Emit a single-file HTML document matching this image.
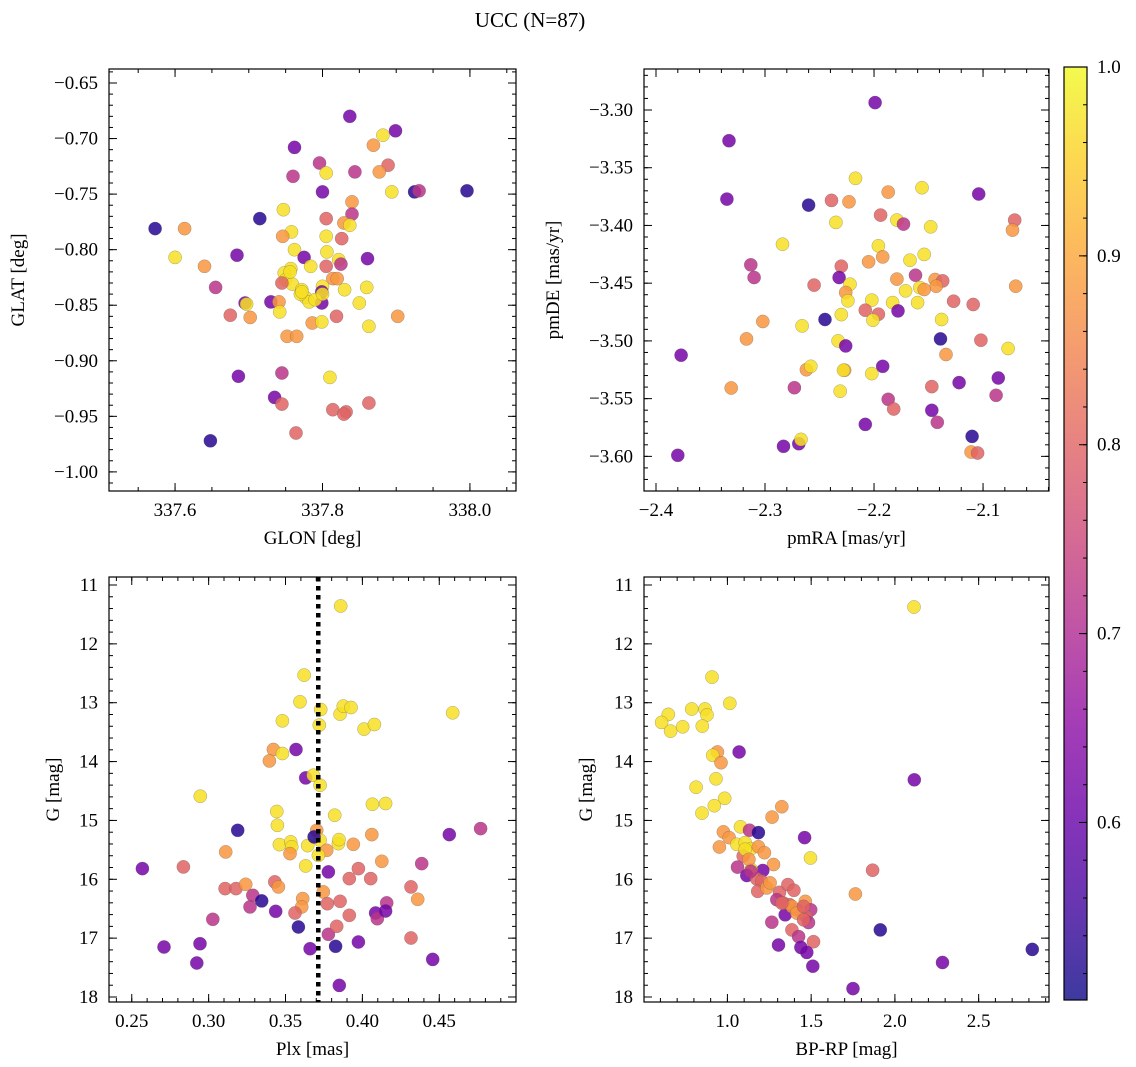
<!DOCTYPE html>
<html><head><meta charset="utf-8"><style>
html,body{margin:0;padding:0;background:#fff}
svg{display:block}
svg text{font-family:"Liberation Serif",serif;fill:#000}
</style></head><body>
<svg id="fig" width="1136" height="1067" viewBox="0 0 1136 1067" xmlns="http://www.w3.org/2000/svg" font-family="Liberation Serif, serif">
<text x="530" y="27" font-size="21" text-anchor="middle">UCC (N=87)</text>
</svg>
<script>
// ---- Panel 1: GLON vs GLAT
const glon = [337.837,337.899,337.882,337.869,337.762,337.796,337.889,337.805,337.844,337.877,337.760,337.800,337.894,337.925,337.931,337.996,337.840,337.747,337.840,337.805,337.715,337.829,337.837,337.573,337.613,337.758,337.746,337.805,337.826,337.762,337.806,337.684,337.775,337.600,337.861,337.822,337.825,337.784,337.805,337.640,337.757,337.748,337.814,337.750,337.759,337.800,337.655,337.860,337.830,337.772,337.799,337.777,337.782,337.799,337.730,337.695,337.697,337.741,337.850,337.742,337.675,337.702,337.819,337.902,337.786,337.799,337.863,337.752,337.765,337.686,337.745,337.810,337.735,337.745,337.814,337.832,337.829,337.863,337.764,337.648,337.756,337.770,337.790,337.745,337.820,337.772,337.800];
const glat = [-0.680,-0.693,-0.697,-0.706,-0.708,-0.722,-0.724,-0.731,-0.730,-0.730,-0.734,-0.748,-0.748,-0.748,-0.747,-0.747,-0.757,-0.764,-0.768,-0.772,-0.772,-0.776,-0.778,-0.781,-0.781,-0.784,-0.788,-0.788,-0.790,-0.800,-0.802,-0.805,-0.807,-0.807,-0.808,-0.809,-0.813,-0.815,-0.815,-0.815,-0.817,-0.821,-0.826,-0.827,-0.831,-0.833,-0.834,-0.834,-0.836,-0.836,-0.838,-0.843,-0.847,-0.848,-0.847,-0.848,-0.849,-0.847,-0.848,-0.856,-0.859,-0.861,-0.860,-0.860,-0.866,-0.865,-0.869,-0.878,-0.878,-0.914,-0.911,-0.915,-0.933,-0.939,-0.944,-0.946,-0.948,-0.938,-0.965,-0.972,-0.820,-0.840,-0.845,-0.830,-0.826,-0.838,-0.840];
const prob1 = [0.62,0.62,0.97,0.88,0.62,0.72,0.80,0.97,0.72,0.88,0.72,0.62,0.97,0.53,0.72,0.53,0.88,0.97,0.72,0.80,0.53,0.88,0.97,0.53,0.88,0.97,0.88,0.97,0.80,0.97,0.97,0.62,0.62,0.97,0.62,0.97,0.72,0.97,0.80,0.88,0.97,0.97,0.88,0.97,0.97,0.97,0.72,0.97,0.97,0.97,0.62,0.97,0.97,0.62,0.62,0.62,0.97,0.88,0.97,0.97,0.80,0.88,0.80,0.88,0.88,0.97,0.97,0.88,0.88,0.62,0.72,0.97,0.62,0.80,0.80,0.80,0.80,0.80,0.80,0.53,0.97,0.97,0.97,0.80,0.88,0.97,0.97];
// ---- Panel 2: pmRA vs pmDE
const pmra = [-2.199,-2.333,-2.335,-2.104,-2.217,-2.156,-2.187,-2.260,-2.239,-2.223,-2.194,-2.235,-2.179,-2.173,-2.148,-2.071,-2.073,-2.284,-2.196,-2.192,-2.205,-2.167,-2.154,-2.313,-2.310,-2.230,-2.232,-2.255,-2.222,-2.226,-2.224,-2.179,-2.162,-2.144,-2.137,-2.143,-2.158,-2.154,-2.171,-2.070,-2.202,-2.183,-2.160,-2.127,-2.109,-2.208,-2.196,-2.178,-2.201,-2.230,-2.245,-2.266,-2.302,-2.138,-2.317,-2.233,-2.226,-2.139,-2.102,-2.077,-2.377,-2.134,-2.262,-2.258,-2.227,-2.228,-2.202,-2.192,-2.331,-2.273,-2.231,-2.147,-2.122,-2.086,-2.088,-2.187,-2.182,-2.147,-2.142,-2.208,-2.110,-2.111,-2.105,-2.283,-2.269,-2.267,-2.380];
const pmde = [-3.2936,-3.3266,-3.3772,-3.3728,-3.3592,-3.3673,-3.3711,-3.3824,-3.3783,-3.3795,-3.3910,-3.3974,-3.3954,-3.3988,-3.4012,-3.3954,-3.4040,-3.4162,-3.4176,-3.4272,-3.4315,-3.4301,-3.4251,-3.4341,-3.4451,-3.4353,-3.4451,-3.4517,-3.4509,-3.4581,-3.4653,-3.4465,-3.4431,-3.4468,-3.4480,-3.4526,-3.4538,-3.4555,-3.4566,-3.4526,-3.4647,-3.4668,-3.4668,-3.4656,-3.4685,-3.4734,-3.4769,-3.4740,-3.4821,-3.4772,-3.4815,-3.4870,-3.4832,-3.4815,-3.4983,-3.5000,-3.5043,-3.4983,-3.4994,-3.5066,-3.5124,-3.5118,-3.5249,-3.5220,-3.5254,-3.5254,-3.5283,-3.5220,-3.5408,-3.5405,-3.5436,-3.5396,-3.5361,-3.5321,-3.5471,-3.5506,-3.5590,-3.5601,-3.5705,-3.5723,-3.5827,-3.5962,-3.5971,-3.5913,-3.5890,-3.5853,-3.5991];
const prob2 = [0.62,0.62,0.62,0.62,0.97,0.97,0.88,0.53,0.80,0.88,0.80,0.97,0.97,0.72,0.97,0.80,0.88,0.97,0.97,0.88,0.88,0.97,0.97,0.72,0.72,0.80,0.62,0.80,0.97,0.88,0.97,0.88,0.72,0.88,0.80,0.88,0.97,0.88,0.97,0.88,0.97,0.97,0.97,0.80,0.80,0.80,0.80,0.62,0.97,0.97,0.53,0.97,0.88,0.97,0.88,0.97,0.62,0.53,0.80,0.97,0.62,0.88,0.88,0.97,0.88,0.97,0.97,0.62,0.88,0.72,0.97,0.80,0.62,0.62,0.72,0.72,0.80,0.62,0.72,0.62,0.53,0.88,0.80,0.62,0.62,0.97,0.62];
// ---- Panel 3: Plx vs G
const plx = [0.3859,0.3621,0.3594,0.3729,0.3855,0.3876,0.3926,0.4587,0.3480,0.3720,0.4011,0.4078,0.3421,0.3395,0.3480,0.3568,0.3631,0.3681,0.3725,0.2946,0.3443,0.3447,0.3820,0.4065,0.4151,0.3189,0.4565,0.4769,0.4061,0.3703,0.3460,0.3534,0.3540,0.3529,0.3644,0.3725,0.3768,0.3844,0.3848,0.3941,0.3714,0.3111,0.3631,0.2569,0.2836,0.3779,0.3974,0.4126,0.4386,0.3915,0.4054,0.3107,0.3178,0.3241,0.3430,0.3454,0.3287,0.3269,0.3345,0.3436,0.3612,0.3605,0.3562,0.3746,0.3772,0.3855,0.3915,0.4316,0.4360,0.4158,0.4086,0.4097,0.4151,0.3027,0.3584,0.3779,0.3833,0.4316,0.2710,0.2944,0.2923,0.3660,0.3826,0.3974,0.4457,0.3850,0.3686];
const gmag3 = [11.357,12.531,12.984,13.115,13.194,13.058,13.081,13.171,13.307,13.381,13.449,13.370,13.795,13.988,13.863,13.795,14.277,14.231,14.401,14.588,14.849,15.082,14.912,14.725,14.713,15.167,15.240,15.138,15.240,15.167,15.410,15.365,15.450,15.563,15.427,15.337,15.507,15.393,15.325,15.405,15.592,15.535,15.773,15.819,15.790,15.875,15.819,15.694,15.733,15.989,15.989,16.159,16.159,16.085,16.045,16.130,16.272,16.470,16.368,16.544,16.329,16.470,16.572,16.215,16.414,16.374,16.612,16.130,16.340,16.402,16.572,16.669,16.539,16.680,16.811,16.935,16.799,16.998,17.151,17.094,17.423,17.179,17.139,17.066,17.361,17.803,15.280];
const prob3 = [0.97,0.97,0.97,0.97,0.97,0.97,0.97,0.97,0.97,0.97,0.97,0.97,0.88,0.88,0.97,0.62,0.62,0.97,0.97,0.97,0.97,0.97,0.97,0.97,0.97,0.53,0.62,0.72,0.88,0.88,0.97,0.97,0.97,0.88,0.97,0.97,0.88,0.97,0.97,0.88,0.97,0.88,0.97,0.62,0.80,0.62,0.80,0.88,0.72,0.80,0.80,0.80,0.80,0.88,0.80,0.88,0.72,0.72,0.53,0.62,0.88,0.88,0.80,0.88,0.80,0.80,0.80,0.80,0.88,0.72,0.62,0.72,0.62,0.72,0.53,0.72,0.80,0.80,0.62,0.62,0.62,0.62,0.53,0.62,0.62,0.62,0.53];
// ---- Panel 4: BP-RP vs G
const bprp = [2.114,0.908,1.014,0.647,0.607,0.661,0.733,0.787,0.866,0.878,0.850,1.070,0.940,0.912,0.962,2.116,0.932,0.813,0.984,0.922,0.848,1.325,1.267,1.078,1.461,0.976,1.132,1.185,1.010,0.952,1.056,1.106,1.140,1.185,1.221,1.496,1.094,1.275,1.060,1.211,1.142,1.867,1.116,1.175,1.205,1.181,1.235,1.311,1.361,1.397,1.295,1.764,1.465,1.371,1.413,1.497,1.345,1.470,1.484,1.265,1.913,1.385,1.425,1.514,1.305,1.439,1.474,2.820,2.284,1.510,1.750,1.335,1.385,1.415,1.106,1.128,1.140,1.255,1.325,1.455,1.455];
const gmag4 = [11.373,12.565,13.010,13.198,13.335,13.483,13.409,13.107,13.107,13.209,13.398,13.837,13.837,13.894,14.019,14.310,14.293,14.436,14.624,14.750,14.875,14.767,14.944,15.109,15.292,15.195,15.166,15.206,15.292,15.451,15.406,15.377,15.480,15.446,15.548,15.639,15.605,15.748,15.793,15.851,15.833,15.845,15.936,15.993,16.033,16.204,16.147,16.221,16.090,16.187,16.347,16.250,16.375,16.432,16.518,16.518,16.603,16.632,16.735,16.729,16.860,16.860,16.974,17.060,17.117,17.157,17.243,17.191,17.414,17.476,17.858,16.404,16.461,16.575,15.491,15.662,15.862,16.062,16.404,16.689,16.461];
const prob4 = [0.97,0.97,0.97,0.97,0.97,0.97,0.97,0.97,0.97,0.97,0.97,0.62,0.88,0.97,0.88,0.62,0.97,0.97,0.97,0.97,0.97,0.88,0.88,0.97,0.62,0.88,0.72,0.53,0.88,0.88,0.97,0.97,0.97,0.88,0.88,0.97,0.80,0.88,0.72,0.62,0.97,0.80,0.62,0.80,0.80,0.80,0.88,0.80,0.80,0.80,0.72,0.88,0.88,0.80,0.80,0.72,0.62,0.80,0.72,0.72,0.53,0.80,0.72,0.80,0.62,0.62,0.62,0.53,0.62,0.62,0.62,0.80,0.88,0.88,0.97,0.88,0.72,0.88,0.80,0.80,0.80];
const plxMedian = [0.3713];
const cbTicks = [0.6,0.7,0.8,0.9,1.0];
const vmin = 0.506, vmax = 1.0;

const NS = "http://www.w3.org/2000/svg";
const svg = document.getElementById('fig');
function mk(tag, attrs, parent){ const e=document.createElementNS(NS,tag); for(const k in attrs) e.setAttribute(k,attrs[k]); (parent||svg).appendChild(e); return e; }
const stops=[[13,8,135],[65,4,157],[106,0,168],[143,13,164],[177,42,144],[204,71,120],[225,100,98],[242,132,75],[252,166,54],[252,206,37],[240,249,33]];
function plasma(v){ let t=(v-vmin)/(vmax-vmin); t=Math.max(0,Math.min(1,t))*10; const i=Math.min(9,Math.floor(t)), f=t-i; const a=stops[i], b=stops[i+1]; return 'rgb('+a.map((c,j)=>Math.round(c+(b[j]-c)*f)).join(',')+')'; }
function fmt(v,d){ const s=Math.abs(v).toFixed(d); return (v<-1e-9?'\u2212':'')+s; }
const FF = 'Liberation Serif, serif';
const FS = 19;

function panel(c){
  const g = mk('g',{}); 
  
  
  const sx = v => c.l + (v - c.x0)/(c.x1 - c.x0)*(c.r - c.l);
  const sy = v => c.t + (v - c.yTop)/(c.yBot - c.yTop)*(c.b - c.t);
  for(let i=0;i<c.xs.length;i++){
    const p = mk('circle',{cx:sx(c.xs[i]).toFixed(1),cy:sy(c.ys[i]).toFixed(1),r:6.6,fill:plasma(c.cs[i]),'fill-opacity':0.85,stroke:'#555','stroke-width':0.4,'stroke-opacity':0.6},g);
    
    
  }
  if(c.vline){ for(const v of c.vline){ const ln=mk('line',{x1:sx(v),x2:sx(v),y1:c.t,y2:c.b,stroke:'#000','stroke-width':4.5,'stroke-dasharray':'4.5 4.5'},g);
    
     } }
  const fr = mk('rect',{x:c.l,y:c.t,width:c.r-c.l,height:c.b-c.t,fill:'none',stroke:'#000','stroke-width':1.2},g);
  
  
  const tk = (x1,y1,x2,y2)=>mk('line',{x1,y1,x2,y2,stroke:'#000','stroke-width':1},g);
  const lo=Math.min(c.x0,c.x1), hi=Math.max(c.x0,c.x1);
  for(let v=Math.ceil(lo/c.xm-1e-6)*c.xm; v<=hi+1e-9; v+=c.xm){ const X=sx(v); tk(X,c.b,X,c.b-4); tk(X,c.t,X,c.t+4); }
  const ylo=Math.min(c.yTop,c.yBot), yhi=Math.max(c.yTop,c.yBot);
  for(let v=Math.ceil(ylo/c.ym-1e-6)*c.ym; v<=yhi+1e-9; v+=c.ym){ const Y=sy(v); tk(c.l,Y,c.l+4,Y); tk(c.r,Y,c.r-4,Y); }
  for(const v of c.xM){ const X=sx(v); tk(X,c.b,X,c.b-8); tk(X,c.t,X,c.t+8);
    const t=mk('text',{x:X,y:c.b+25,'font-size':FS,'text-anchor':'middle','font-family':FF},g); t.textContent=fmt(v,c.xd);
    
     }
  for(const v of c.yM){ const Y=sy(v); tk(c.l,Y,c.l+8,Y); tk(c.r,Y,c.r-8,Y);
    const t=mk('text',{x:c.l-11,y:Y+6,'font-size':FS,'text-anchor':'end','font-family':FF},g); t.textContent=fmt(v,c.yd);
    
     }
  const xl=mk('text',{x:(c.l+c.r)/2,y:c.b+53,'font-size':FS,'text-anchor':'middle','font-family':FF},g); xl.textContent=c.xlab;
  
  
  const yx=c.ylx, yy=(c.t+c.b)/2;
  const yl=mk('text',{x:yx,y:yy,'font-size':FS,'text-anchor':'middle','font-family':FF,transform:'rotate(-90 '+yx+' '+yy+')'},g); yl.textContent=c.ylab;
  
  
}

panel({name:'glon-glat-panel',l:109,r:516,t:69,b:491,x0:337.5104,x1:338.0625,yTop:-0.6374,yBot:-1.0172,xs:glon,ys:glat,cs:prob1,
  xM:[337.6,337.8,338.0],xm:0.05,xd:1,yM:[-0.65,-0.70,-0.75,-0.80,-0.85,-0.90,-0.95,-1.00],ym:0.01,yd:2,xlab:'GLON [deg]',ylab:'GLAT [deg]',ylx:24});
panel({name:'pm-panel',l:644,r:1049,t:69,b:491,x0:-2.411,x1:-2.0395,yTop:-3.2645,yBot:-3.630,xs:pmra,ys:pmde,cs:prob2,
  xM:[-2.4,-2.3,-2.2,-2.1],xm:0.02,xd:1,yM:[-3.30,-3.35,-3.40,-3.45,-3.50,-3.55,-3.60],ym:0.01,yd:2,xlab:'pmRA [mas/yr]',ylab:'pmDE [mas/yr]',ylx:559});
panel({name:'plx-g-panel',l:109,r:516,t:577,b:1002,x0:0.2352,x1:0.4999,yTop:10.864,yBot:18.085,xs:plx,ys:gmag3,cs:prob3,vline:plxMedian,
  xM:[0.25,0.30,0.35,0.40,0.45],xm:0.01,xd:2,yM:[11,12,13,14,15,16,17,18],ym:0.2,yd:0,xlab:'Plx [mas]',ylab:'G [mag]',ylx:59});
panel({name:'cmd-panel',l:644,r:1049,t:577,b:1002,x0:0.502,x1:2.92,yTop:10.864,yBot:18.085,xs:bprp,ys:gmag4,cs:prob4,
  xM:[1.0,1.5,2.0,2.5],xm:0.1,xd:1,yM:[11,12,13,14,15,16,17,18],ym:0.2,yd:0,xlab:'BP-RP [mag]',ylab:'G [mag]',ylx:592});

// colorbar
const cb = mk('g',{});


const defs = mk('defs',{},cb);
const grad = mk('linearGradient',{id:'pl',x1:0,y1:1,x2:0,y2:0},defs);
for(let i=0;i<=20;i++){ const v=vmin+(vmax-vmin)*i/20; mk('stop',{offset:(i/20),'stop-color':plasma(v),'stop-opacity':0.8},grad); }
const cT=67, cB=1000, cL=1064, cR=1087;
mk('rect',{x:cL,y:cT,width:cR-cL,height:cB-cT,fill:'url(#pl)',stroke:'#000','stroke-width':1.2},cb);
const cy = v => cB - (v-vmin)/(vmax-vmin)*(cB-cT);
for(let v=0.52; v<=1.0001; v+=0.02){ mk('line',{x1:cR,x2:cR-4,y1:cy(v),y2:cy(v),stroke:'#000','stroke-width':1},cb); }
for(const v of cbTicks){ mk('line',{x1:cR,x2:cR-8,y1:cy(v),y2:cy(v),stroke:'#000','stroke-width':1},cb);
  const t=mk('text',{x:cR+10,y:cy(v)+6,'font-size':FS,'font-family':FF},cb); t.textContent=v.toFixed(1);
  
   }
</script>
</body></html>
